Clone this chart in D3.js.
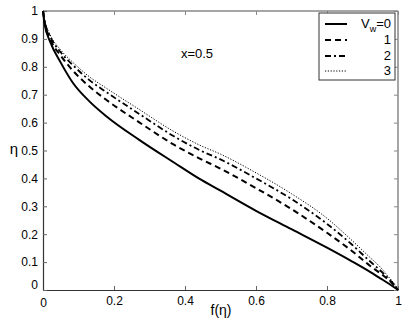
<!DOCTYPE html>
<html>
<head>
<meta charset="utf-8">
<script src="https://cdn.jsdelivr.net/npm/d3@7"></script>
<style>
  body { margin: 0; background: #fff; }
  svg { display: block; font-family: "Liberation Sans", Arial, sans-serif; }
  .tick text { font-size: 12px; fill: #000; }
</style>
</head>
<body>
<div id="chart"></div>
<script>
// f(eta) sample positions shared by every curve
var fVals = [0, 0.005, 0.02, 0.05, 0.085, 0.13, 0.18, 0.27, 0.37, 0.44, 0.5, 0.6, 0.7, 0.8, 0.87, 0.92, 0.95, 0.97, 0.99, 1];
// eta values for each wall velocity
var etaVw0 = [1, 0.95, 0.89, 0.815, 0.741, 0.677, 0.621, 0.539, 0.456, 0.399, 0.356, 0.284, 0.218, 0.152, 0.103, 0.066, 0.042, 0.026, 0.009, 0];
var etaVw1 = [1, 0.958, 0.9, 0.84, 0.785, 0.73, 0.68, 0.602, 0.52, 0.472, 0.435, 0.365, 0.29, 0.205, 0.14, 0.088, 0.06, 0.04, 0.015, 0];
var etaVw2 = [1, 0.962, 0.91, 0.852, 0.805, 0.753, 0.708, 0.632, 0.55, 0.502, 0.468, 0.4, 0.326, 0.237, 0.163, 0.104, 0.07, 0.045, 0.018, 0];
var etaVw3 = [1, 0.965, 0.915, 0.86, 0.815, 0.765, 0.722, 0.648, 0.567, 0.52, 0.487, 0.42, 0.345, 0.257, 0.178, 0.118, 0.082, 0.052, 0.021, 0];
var legendLabels = ["0", "1", "2", "3"];
var xTicks = [0, 0.2, 0.4, 0.6, 0.8, 1];
var yTicks = [0, 0.1, 0.2, 0.3, 0.4, 0.5, 0.6, 0.7, 0.8, 0.9, 1];

var W = 405, H = 322;
var x = d3.scaleLinear().domain([0, 1]).range([43, 398]);
var y = d3.scaleLinear().domain([0, 1]).range([290, 11]);

var svg = d3.select("#chart").append("svg")
    .attr("width", W)
    .attr("height", H);

// box top / right
svg.append("line").attr("x1", x(0)).attr("x2", x(1)).attr("y1", y(1)).attr("y2", y(1))
    .attr("stroke", "#888").attr("stroke-width", 1.5);
svg.append("line").attr("x1", x(1)).attr("x2", x(1)).attr("y1", y(0)).attr("y2", y(1))
    .attr("stroke", "#888").attr("stroke-width", 1.5);

var fmt = function(d) { return d === 0 || d === 1 ? d3.format("d")(d) : d3.format(".1f")(d); };

var xAxis = svg.append("g")
    .attr("transform", "translate(0," + y(0) + ")")
    .call(d3.axisBottom(x).tickValues(xTicks).tickFormat(fmt).tickSizeInner(-4).tickSizeOuter(0).tickPadding(6));
var yAxis = svg.append("g")
    .attr("transform", "translate(" + x(0) + ",0)")
    .call(d3.axisLeft(y).tickValues(yTicks).tickFormat(fmt).tickSizeInner(-4).tickSizeOuter(0).tickPadding(5));

// ticks on top and right edges
svg.append("g").attr("transform", "translate(0," + y(1) + ")")
    .call(d3.axisTop(x).tickValues(xTicks).tickFormat("").tickSizeInner(-4).tickSizeOuter(0))
    .call(function(g) { g.select(".domain").remove(); g.selectAll("line").attr("stroke", "#888"); });
svg.append("g").attr("transform", "translate(" + x(1) + ",0)")
    .call(d3.axisRight(y).tickValues(yTicks).tickFormat("").tickSizeInner(-4).tickSizeOuter(0))
    .call(function(g) { g.select(".domain").remove(); g.selectAll("line").attr("stroke", "#888"); });

[xAxis, yAxis].forEach(function(g) {
  g.select(".domain").attr("stroke", "#333").attr("stroke-width", 1.2);
  g.selectAll(".tick line").attr("stroke", "#666");
});
// shift corner zero labels like the original
xAxis.selectAll(".tick text").filter(function(d) { return d === 0; }).attr("dy", "0.9em");
yAxis.selectAll(".tick text").filter(function(d) { return d === 0; }).attr("dy", "-0.1em");

var series = [
  { eta: etaVw0, width: 2, dash: null },
  { eta: etaVw1, width: 2, dash: "6,4" },
  { eta: etaVw2, width: 1.8, dash: "6,3,2,3" },
  { eta: etaVw3, width: 1, dash: "1.2,1.6" }
];

var line = d3.line()
    .x(function(d) { return x(d[0]); })
    .y(function(d) { return y(d[1]); })
    .curve(d3.curveMonotoneX);

series.forEach(function(s) {
  svg.append("path")
      .datum(fVals.map(function(f, i) { return [f, s.eta[i]]; }))
      .attr("fill", "none")
      .attr("stroke", "#000")
      .attr("stroke-width", s.width)
      .attr("stroke-dasharray", s.dash)
      .attr("d", line);
});

// annotation
svg.append("text").attr("x", 197).attr("y", 58).attr("text-anchor", "middle")
    .attr("font-size", 13).text("x=0.5");

// axis labels
svg.append("text").attr("x", 221).attr("y", 315).attr("text-anchor", "middle")
    .attr("font-size", 14).text("f(η)");
svg.append("text").attr("x", 14).attr("y", 154).attr("text-anchor", "middle")
    .attr("font-size", 15).text("η");

// legend
var lg = svg.append("g");
lg.append("rect").attr("x", 319).attr("y", 13).attr("width", 76).attr("height", 67)
    .attr("fill", "#fff").attr("stroke", "#333").attr("stroke-width", 1);
var rowY = [24, 40, 56, 71];
series.forEach(function(s, i) {
  lg.append("line").attr("x1", 325).attr("x2", 347).attr("y1", rowY[i]).attr("y2", rowY[i])
      .attr("stroke", "#000").attr("stroke-width", s.width).attr("stroke-dasharray", s.dash);
  var t = lg.append("text").attr("x", 391).attr("y", rowY[i] + 4).attr("text-anchor", "end")
      .attr("font-size", 13);
  if (i === 0) {
    t.append("tspan").text("V");
    t.append("tspan").attr("font-size", 9).attr("dy", 4).text("w");
    t.append("tspan").attr("dy", -4).text("=" + legendLabels[i]);
  } else {
    t.text(legendLabels[i]);
  }
});
</script>
</body>
</html>
